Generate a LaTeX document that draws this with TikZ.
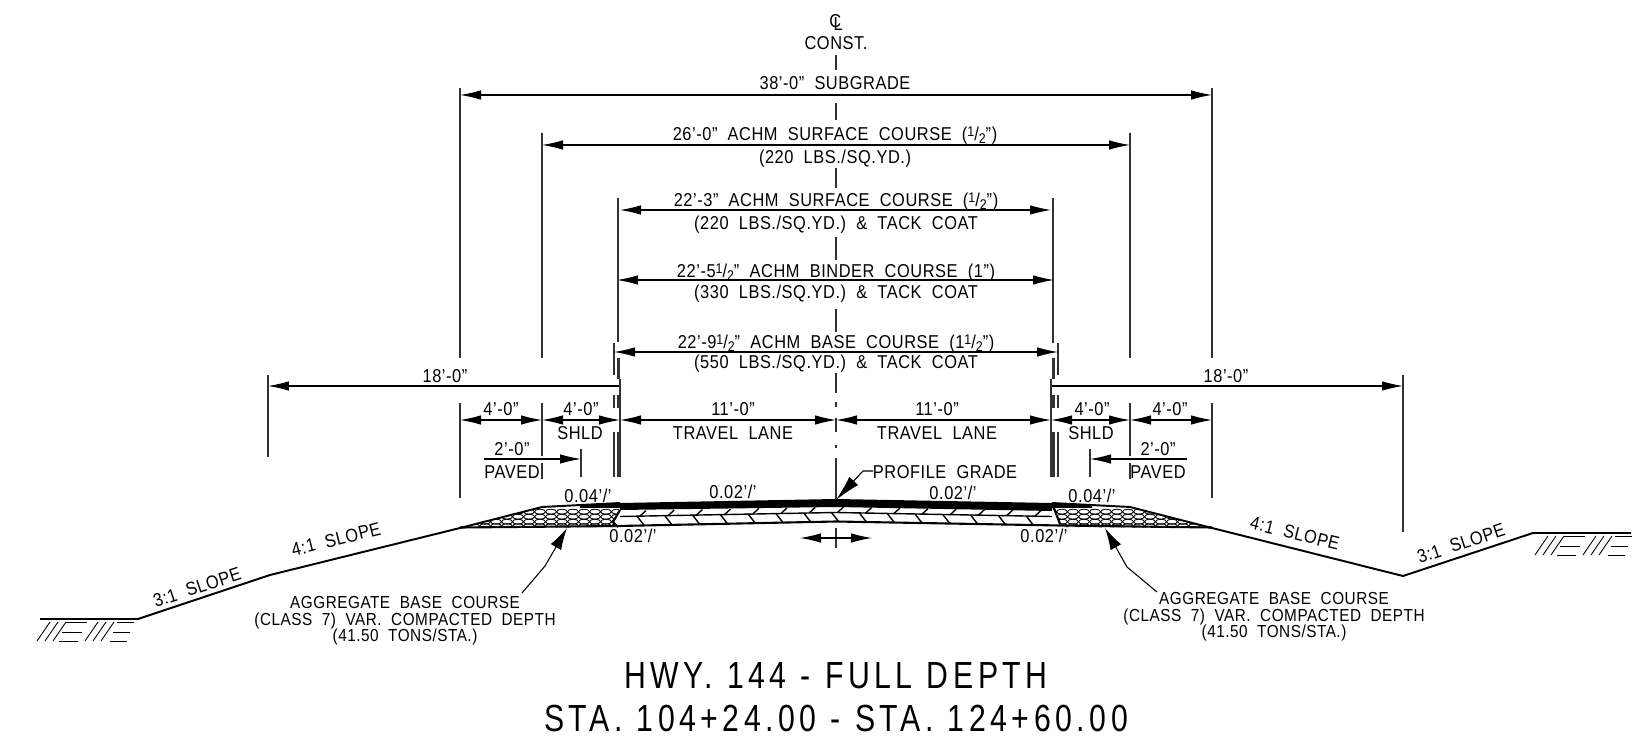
\documentclass[tikz,border=0pt]{standalone}
\usepackage{fontspec}
\setmainfont{Liberation Sans}[LetterSpace=3,FakeStretch=0.88,WordSpace=2]
\newfontfamily\titlefont{Liberation Sans}[LetterSpace=12,FakeStretch=0.8,WordSpace=1.1]
\usetikzlibrary{arrows.meta}
\newcommand{\halfmark}{{\raisebox{2.5pt}{\fontsize{8}{8}\selectfont 1}/\raisebox{-1.5pt}{\fontsize{8}{8}\selectfont 2}}}
\tikzset{
  dimline/.style={line width=0.6pt,{Latex[length=4.2mm,width=1.9mm]}-{Latex[length=4.2mm,width=1.9mm]}},
  halfdim/.style={line width=0.6pt,-{Latex[length=4.2mm,width=1.9mm]}},
  extline/.style={line width=0.6pt,black!80},
  heavyext/.style={line width=1.3pt,black!80},
  grade/.style={line width=1.1pt},
  lbl/.style={inner sep=0pt,text height=7.6pt,text depth=0pt,font=\fontsize{10.6}{12}\selectfont},
  smlbl/.style={lbl,font=\fontsize{9.9}{12}\selectfont},
  bigtitle/.style={inner sep=0pt,text height=15.5pt,text depth=0pt,font=\fontsize{21.5}{24}\selectfont\titlefont}
}
\begin{document}
\begin{tikzpicture}[x=0.02cm,y=-0.02cm]
\useasboundingbox (0,0) rectangle (1633,739);
\fill[white] (0,0) rectangle (1633,739);
\foreach \ya/\yb in {55/70,103/120,168/188,237/260,309/332,373/393,402/407,418/432,445/448,458/499,528/548}
  \draw[extline] (836,\ya) -- (836,\yb);
\draw[dimline] (460,95) -- (1212,95);
\draw[dimline] (542,145) -- (1130,145);
\draw[dimline] (620,210) -- (1051,210);
\draw[dimline] (617,280) -- (1054,280);
\draw[dimline] (614,352) -- (1058,352);
\draw[halfdim] (620,386) -- (268,386);
\draw[halfdim] (1051,386) -- (1403,386);
\draw[dimline] (460,420) -- (542,420);
\draw[dimline] (542,420) -- (620,420);
\draw[dimline] (620,420) -- (836,420);
\draw[dimline] (836,420) -- (1051,420);
\draw[dimline] (1051,420) -- (1130,420);
\draw[dimline] (1130,420) -- (1212,420);
\draw[halfdim] (484,459) -- (581,459);
\draw[halfdim] (1187,459) -- (1090,459);
\draw[dimline] (800,538) -- (872,538);
\foreach \xa in {460,1212} {
  \draw[extline] (\xa,88) -- (\xa,358);
  \draw[extline] (\xa,403) -- (\xa,498);
}
\foreach \xa in {542,1130} {
  \draw[extline] (\xa,133) -- (\xa,358);
  \draw[extline] (\xa,403) -- (\xa,456);
  \draw[extline] (\xa,463) -- (\xa,479);
}
\draw[extline] (268,375) -- (268,457);
\draw[extline] (1403,375) -- (1403,532);
\draw[extline] (581,449) -- (581,477);
\draw[extline] (1090,449) -- (1090,477);
\draw[extline] (618,198) -- (618,342);
\draw[extline] (1053,198) -- (1053,343);
\draw[extline] (620,379) -- (620,477);
\draw[extline] (1051,379) -- (1051,477);
\foreach \ya/\yb in {343/375,395/408,432/477} {
  \draw[extline] (614,\ya) -- (614,\yb);
  \draw[extline] (1058,\ya) -- (1058,\yb);
}
\foreach \ya/\yb in {358/379,395/408,432/477} {
  \draw[heavyext] (618.5,\ya) -- (618.5,\yb);
  \draw[heavyext] (1053.5,\ya) -- (1053.5,\yb);
}
\begin{scope}
\clip (460,528) -- (542,507) -- (620,507) -- (613,522) -- (618,527) -- cycle;
\foreach \ya in {511.7,516.7,521.7,526.2}
  \foreach \k in {0,...,16}
    \draw[line width=0.5pt] ({452+11*\k},\ya) ellipse (5.5 and 2.5);
\end{scope}
\begin{scope}
\clip (1212,528) -- (1130,507) -- (1052,507) -- (1060,524) -- (1058,527) -- cycle;
\foreach \ya in {511.7,516.7,521.7,526.2}
  \foreach \k in {0,...,16}
    \draw[line width=0.5pt] ({1040+11*\k},\ya) ellipse (5.5 and 2.5);
\end{scope}
\fill (620,503) -- (836,499) -- (1052,503) -- (1052,511) -- (836,507) -- (620,510) -- cycle;
\fill (580,504.7) -- (620,503) -- (620,508) -- (580,508) -- cycle;
\fill (1092,504.7) -- (1052,503) -- (1052,508) -- (1092,508) -- cycle;
\draw[line width=0.8pt] (620,516.5) -- (836,512.5) -- (1052,516.5);
\foreach \k in {0,...,14} {
  \pgfmathsetmacro{\xa}{643+28.2*\k}
  \pgfmathsetmacro{\dy}{0.0185*abs(\xa-836)}
  \draw[line width=0.8pt] ({\xa-3},{512.5+\dy}) -- ({\xa+3},{507+\dy});
}
\foreach \k in {0,...,14} {
  \pgfmathsetmacro{\xa}{637+27.8*\k}
  \pgfmathsetmacro{\dy}{0.0185*abs(\xa-836)}
  \draw[line width=0.8pt] ({\xa},{512.5+\dy}) -- ({\xa+7},{521.5+\dy});
}
\draw[line width=1.2pt] (620,510) -- (613,522) -- (618,527);
\draw[line width=1.2pt] (1052,503) -- (1060,524);
\draw[grade] (460,528) -- (542,507) -- (620,503);
\draw[grade] (1052,503) -- (1130,507) -- (1212,528);
\draw[line width=1.2pt] (460,527.5) -- (618,526) -- (836,521.5) -- (1060,525.5) -- (1212,527.5);
\draw[grade] (460,528) -- (270,575) -- (138,619) -- (40,619);
\draw[grade] (1212,528) -- (1403,576) -- (1533,533) -- (1631,533);
\foreach \sx/\sy in {0/0,1498/-86} {
  \begin{scope}[shift={(\sx,\sy)},line width=0.5pt]
  \foreach \xa in {37,45,53,85,93,101}
    \draw (\xa,641) -- ({\xa+13},622);
  \draw (66,622) -- (87,622);
  \draw (62,632) -- (82,632);
  \draw (59,641) -- (78,641);
  \draw (117,622) -- (134,622);
  \draw (113,632) -- (130,632);
  \draw (110,641) -- (127,641);
  \end{scope}
}
\coordinate (gradetip) at (836,500);
\coordinate (gradebend) at (863,471);
\coordinate (gradeend) at (873,471);
\draw[line width=0.6pt,{Latex[length=5.2mm,width=2.4mm]}-] (gradetip) -- (gradebend) -- (gradeend);
\coordinate (aggtipL) at (567,528);
\coordinate (aggbendL) at (545,566);
\coordinate (aggendL) at (522,593);
\draw[line width=0.6pt,{Latex[length=4.4mm,width=2.4mm]}-] (aggtipL) -- (aggbendL) -- (aggendL);
\coordinate (aggtipR) at (1105,528);
\coordinate (aggbendR) at (1127,567);
\coordinate (aggendR) at (1157,592);
\draw[line width=0.6pt,{Latex[length=4.4mm,width=2.4mm]}-] (aggtipR) -- (aggbendR) -- (aggendR);
\node[lbl] (clmark) at (836,24) {\rlap{\raisebox{2pt}{C}}\kern2.5pt L};
\node[lbl] (const) at (836,43) {CONST.};
\node[lbl] (subgrade) at (835,83) {38'-0" SUBGRADE};
\node[lbl] (surfaceA) at (835,134) {26'-0" ACHM SURFACE COURSE (\halfmark")};
\node[lbl] (surfaceArate) at (835,157) {(220 LBS./SQ.YD.)};
\node[lbl] (surfaceB) at (836,200) {22'-3" ACHM SURFACE COURSE (\halfmark")};
\node[lbl] (surfaceBrate) at (836,223) {(220 LBS./SQ.YD.) \& TACK COAT};
\node[lbl] (binder) at (836,271) {22'-5\halfmark" ACHM BINDER COURSE (1")};
\node[lbl] (binderrate) at (836,292) {(330 LBS./SQ.YD.) \& TACK COAT};
\node[lbl] (base) at (836,342) {22'-9\halfmark" ACHM BASE COURSE (1\halfmark")};
\node[lbl] (baserate) at (836,362) {(550 LBS./SQ.YD.) \& TACK COAT};
\node[lbl] (eighteenL) at (445,376) {18'-0"};
\node[lbl] (eighteenR) at (1226,376) {18'-0"};
\node[lbl] (fourA) at (501,409) {4'-0"};
\node[lbl] (fourB) at (581,409) {4'-0"};
\node[lbl] (elevenL) at (733,409) {11'-0"};
\node[lbl] (elevenR) at (937,409) {11'-0"};
\node[lbl] (fourC) at (1092,409) {4'-0"};
\node[lbl] (fourD) at (1170,409) {4'-0"};
\node[lbl] (shldL) at (580,433) {SHLD};
\node[lbl] (laneL) at (733,433) {TRAVEL LANE};
\node[lbl] (laneR) at (937,433) {TRAVEL LANE};
\node[lbl] (shldR) at (1091,433) {SHLD};
\node[lbl] (twoL) at (512,449) {2'-0"};
\node[lbl] (pavedL) at (512,472) {PAVED};
\node[lbl] (twoR) at (1158,449) {2'-0"};
\node[lbl] (pavedR) at (1158,472) {PAVED};
\node[lbl] (profile) at (945,472) {PROFILE GRADE};
\node[lbl] (shoulderL) at (588,496) {0.04'/'};
\node[lbl] (shoulderR) at (1092,496) {0.04'/'};
\node[lbl] (crownL) at (733,492) {0.02'/'};
\node[lbl] (crownR) at (953,493) {0.02'/'};
\node[lbl] (underL) at (633,536) {0.02'/'};
\node[lbl] (underR) at (1044,536) {0.02'/'};
\node[lbl,rotate=18.4] (slopeA) at (197,587) {3:1 SLOPE};
\node[lbl,rotate=14] (slopeB) at (336,539) {4:1 SLOPE};
\node[lbl,rotate=-14] (slopeC) at (1295,533) {4:1 SLOPE};
\node[lbl,rotate=18.4] (slopeD) at (1461,543) {3:1 SLOPE};
\node[smlbl] (aggL) at (405,602) {AGGREGATE BASE COURSE};
\node[smlbl] (classL) at (405,619) {(CLASS 7) VAR. COMPACTED DEPTH};
\node[smlbl] (tonsL) at (405,635) {(41.50 TONS/STA.)};
\node[smlbl] (aggR) at (1274,598) {AGGREGATE BASE COURSE};
\node[smlbl] (classR) at (1274,615) {(CLASS 7) VAR. COMPACTED DEPTH};
\node[smlbl] (tonsR) at (1274,631) {(41.50 TONS/STA.)};
\node[bigtitle] (titleA) at (836,675) {HWY. 144 - FULL DEPTH};
\node[bigtitle] (titleB) at (836,718) {STA. 104+24.00 - STA. 124+60.00};
\end{tikzpicture}
\end{document}
